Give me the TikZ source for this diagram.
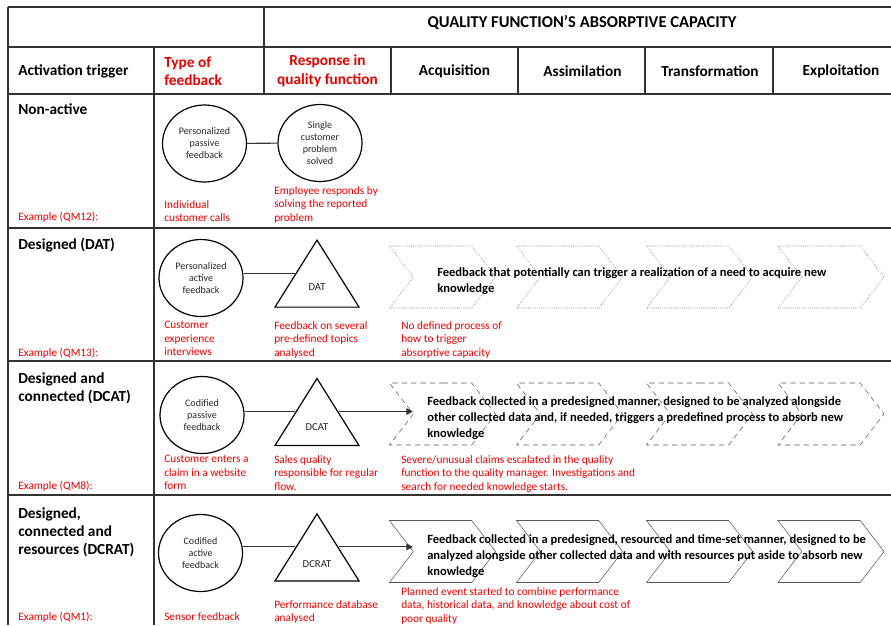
\documentclass[tikz,border=0pt]{standalone}
\usepackage{fontspec}
\setmainfont{Carlito}
\usepackage{xcolor}
\usetikzlibrary{positioning}
\usetikzlibrary{arrows.meta}
\usetikzlibrary{shapes.geometric}
\usetikzlibrary{shapes.symbols}

\definecolor{qred}{RGB}{228,0,0}

\begin{document}
\begin{tikzpicture}[
		x=0.75pt, y=-0.75pt,
		rule/.style={line width=1.1pt, draw=black!80},
		head/.style={font=\fontsize{11.5}{13.8}\selectfont\bfseries, align=center, inner sep=0},
		redhead/.style={head, text=qred},
		trigger/.style={font=\fontsize{11.5}{13.8}\selectfont\bfseries, align=left, anchor=north west, inner sep=0},
		note/.style={font=\fontsize{8.5}{10.2}\selectfont, text=qred, align=left, anchor=north west, inner sep=0},
		feedback/.style={ellipse, draw, line width=0.9pt, minimum width=63pt, minimum height=57.75pt, inner sep=0, align=center, font=\fontsize{7.5}{9}\selectfont, text=black!85},
		response/.style={isosceles triangle, isosceles triangle stretches, shape border rotate=90, draw, line width=0.9pt, minimum width=63pt, minimum height=50.25pt, inner sep=0, font=\fontsize{8}{9.6}\selectfont, text=black!85},
		chev/.style={signal, signal to=east, signal from=west, signal pointer angle=105, draw=black!65, minimum width=79.5pt, minimum height=46.5pt, inner sep=0},
		capacity/.style={font=\fontsize{9.4}{12}\selectfont\bfseries, align=left, anchor=north west, inner sep=0},
		link/.style={line width=0.8pt, draw=black!80},
		arrow/.style={link, -{Triangle[length=5pt, width=5pt]}}
		]
		\useasboundingbox (0,0) rectangle (891,625);
		
		% Table rules
		\draw[rule] (8,7) -- (891,7);
		\draw[rule] (8,47) -- (891,47);
		\draw[rule] (8,94) -- (891,94);
		\draw[rule] (8,228) -- (891,228);
		\draw[rule] (8,361) -- (891,361);
		\draw[rule] (8,495) -- (891,495);
		\draw[rule] (8,7) -- (8,625);
		\draw[rule] (154,47) -- (154,625);
		\draw[rule] (264,7) -- (264,94);
		\draw[rule] (391,47) -- (391,94);
		\draw[rule] (518,47) -- (518,94);
		\draw[rule] (645,47) -- (645,94);
		\draw[rule] (773,47) -- (773,94);
		
		% Header
		\node[head, font=\fontsize{12.4}{14}\selectfont\bfseries] (title) at (582,22.5) {QUALITY FUNCTION’S ABSORPTIVE CAPACITY};
		\node[head, anchor=west] (trig) at (18,71) {Activation trigger};
		\node[redhead, align=left, anchor=west] (type) at (164,71) {Type of\\feedback};
		\node[redhead] (resp) at (327.5,71) {Response in\\quality function};
		\node[head] (acq) at (454.5,71) {Acquisition};
		\node[head] (assim) at (582.5,71) {Assimilation};
		\node[head] (transf) at (710,71) {Transformation};
		\node[head] (exploit) at (841,71) {Exploitation};
		
		% Non-active
		\node[trigger] (nonact) at (18,103) {Non-active};
		\node[note] (ex12) at (18,212) {Example (QM12):};
		\node[feedback] (perpas) at (204.5,143.5) {Personalized\\passive\\feedback};
		\node[feedback] (single) at (320,143) {Single\\customer\\problem\\solved};
		\node[note] (calls) at (164,200) {Individual\\customer calls};
		\node[note] (solving) at (274,186) {Employee responds by\\solving the reported\\problem};
		
		% Designed (DAT)
		\node[trigger] (designed) at (18,238) {Designed (DAT)};
		\node[note] (ex13) at (18,348) {Example (QM13):};
		\node[feedback] (peract) at (201,278) {Personalized\\active\\feedback};
		\node[response] (dat) at (317,287.5) {DAT};
		\node[chev, densely dotted] (dacq) at (442.5,277) {};
		\node[chev, densely dotted] (dassim) at (569.5,277) {};
		\node[chev, densely dotted] (dtransf) at (699.5,277) {};
		\node[chev, densely dotted] (dexploit) at (831,277) {};
		\node[capacity] (dtext) at (437,267) {Feedback that potentially can trigger a realization of a need to acquire new\\knowledge};
		\node[note] (interviews) at (164,321) {Customer\\experience\\interviews};
		\node[note] (topics) at (274,321) {Feedback on several\\pre-defined topics\\analysed};
		\node[note] (noproc) at (401,321) {No defined process of\\how to trigger\\absorptive capacity};
		
		% Designed and connected (DCAT)
		\node[trigger] (dconn) at (18,372) {Designed and\\connected (DCAT)};
		\node[note] (ex8) at (18,481) {Example (QM8):};
		\node[feedback] (codpas) at (202,415) {Codified\\passive\\feedback};
		\node[response] (dcat) at (317,427.5) {DCAT};
		\node[chev, dash pattern=on 4pt off 3pt] (cacq) at (442.5,414) {};
		\node[chev, dash pattern=on 4pt off 3pt] (cassim) at (569.5,414) {};
		\node[chev, dash pattern=on 4pt off 3pt] (ctransf) at (699.5,414) {};
		\node[chev, dash pattern=on 4pt off 3pt] (cexploit) at (831,414) {};
		\node[capacity] (ctext) at (427,396) {Feedback collected in a predesigned manner, designed to be analyzed alongside\\other collected data and, if needed, triggers a predefined process to absorb new\\knowledge};
		\node[note] (website) at (164,455) {Customer enters a\\claim in a website\\form};
		\node[note] (sales) at (274,455) {Sales quality\\responsible for regular\\flow.};
		\node[note] (severe) at (401,455) {Severe/unusual claims escalated in the quality\\function to the quality manager. Investigations and\\search for needed knowledge starts.};
		
		% Designed, connected and resources (DCRAT)
		\node[trigger] (dres) at (18,507) {Designed,\\connected and\\resources (DCRAT)};
		\node[note] (ex1) at (18,612) {Example (QM1):};
		\node[feedback] (codact) at (200.5,553) {Codified\\active\\feedback};
		\node[response] (dcrat) at (317,564.5) {DCRAT};
		\node[chev] (racq) at (442.5,551.5) {};
		\node[chev] (rassim) at (569.5,551.5) {};
		\node[chev] (rtransf) at (699.5,551.5) {};
		\node[chev] (rexploit) at (831,551.5) {};
		\node[capacity] (rtext) at (427,534) {Feedback collected in a predesigned, resourced and time-set manner, designed to be\\analyzed alongside other collected data and with resources put aside to absorb new\\knowledge};
		\node[note] (sensor) at (164,612) {Sensor feedback};
		\node[note] (perfdb) at (274,600) {Performance database\\analysed};
		\node[note] (planned) at (401,587) {Planned event started to combine performance\\data, historical data, and knowledge about cost of\\poor quality};
		
		% Connectors
		\draw[link] (perpas) -- (single);
		\draw[link] (dat.left side -| peract.east) -- (dat.left side);
		\draw[link] (dcat.left side -| codpas.east) -- (dcat.left side);
		\draw[link] (dcrat.left side -| codact.east) -- (dcrat.left side);
		\draw[arrow] (dcat.right side) -- (dcat.right side -| cacq.west);
		\draw[arrow] (dcrat.right side) -- (dcrat.right side -| racq.west);
		
	\end{tikzpicture}
\end{document}
